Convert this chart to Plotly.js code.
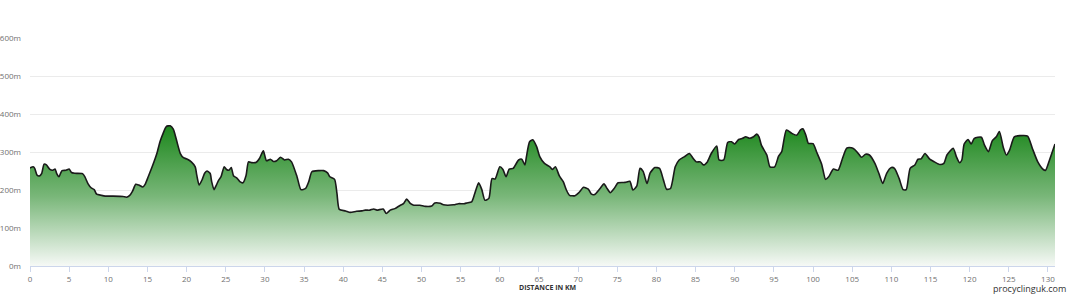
<!DOCTYPE html>
<html>
<head>
<meta charset="utf-8">
<script src="https://cdn.plot.ly/plotly-3.0.1.min.js"></script>
<style>html,body{margin:0;padding:0;background:#fff}#chart{width:1068px;height:294px}</style>
</head>
<body>
<div id="chart"></div>
<script>
const distanceKm = [0,0.4,0.6,0.9,1.2,1.5,1.8,2.1,2.5,2.9,3.2,3.4,3.7,3.9,4.1,4.6,5.0,5.3,5.7,6.7,7.0,7.4,7.8,8.2,8.5,9.1,9.6,10.6,11.9,12.3,12.7,13.1,13.5,13.9,14.4,14.7,15.1,15.6,16.2,16.6,17.0,17.4,17.9,18.3,18.7,19.2,19.6,20.1,20.6,21.1,21.3,21.6,22.0,22.3,22.6,23.0,23.2,23.5,23.8,24.1,24.4,24.8,25.1,25.4,25.7,26.0,26.4,26.8,27.2,27.6,27.9,28.3,28.9,29.3,29.8,30.2,30.7,31.1,31.5,32.0,32.5,33.0,33.4,34.1,34.6,35.2,35.6,36.0,36.9,37.5,38.0,38.3,38.9,39.2,39.5,40.3,40.9,41.7,42.4,42.8,43.4,43.9,44.3,45.1,45.5,46.0,46.6,47.3,47.7,48.1,48.6,49.0,49.8,50.5,51.3,51.7,52.4,52.8,54.1,54.7,55.4,55.8,56.4,56.8,57.3,57.7,58.1,58.6,59.0,59.4,60.0,60.4,60.8,61.2,61.7,62.4,62.8,63.2,63.4,63.8,64.2,64.7,65.1,65.7,66.4,66.7,67.1,67.6,68.1,68.5,68.9,69.6,70.1,70.7,71.3,71.7,72.1,72.8,73.3,73.7,74.1,74.6,75.1,76.0,76.6,77.0,77.5,77.9,78.3,78.8,79.2,79.8,80.4,80.9,81.3,81.8,82.4,82.9,83.6,84.2,84.7,85.1,85.6,86.0,86.5,87.0,87.7,88.0,88.6,89.1,89.6,90.0,90.5,91.0,91.4,91.9,92.4,92.8,93.1,93.4,94.1,94.5,95.1,95.6,96.0,96.6,97.3,97.9,98.4,98.7,99.1,99.4,100.0,100.5,101.1,101.6,102.0,102.6,103.2,103.7,104.3,104.9,105.3,105.7,106.2,106.7,107.2,107.9,108.4,108.9,109.4,110.0,110.4,111.0,111.5,111.9,112.4,113.0,113.4,113.8,114.3,114.9,115.5,116.2,116.7,117.1,117.9,118.3,118.7,119.0,119.3,119.8,120.2,120.6,121.5,121.9,122.4,122.9,123.4,123.8,124.3,124.7,125.1,125.7,126.4,127.4,128.0,128.7,129.4,129.7,130.2,130.9];
const elevationM = [258,261,257,239,237,244,268,266,255,252,255,244,235,244,251,252,255,246,244,243,235,217,206,201,189,186,184,184,183,181,185,197,215,213,208,215,235,261,296,327,349,367,369,360,332,296,285,281,274,261,239,213,228,244,250,244,222,201,213,226,235,261,254,252,259,237,232,222,219,239,274,272,273,283,303,277,281,275,277,286,279,281,274,235,201,204,222,248,251,251,245,235,228,191,149,145,141,144,145,147,147,150,147,150,138,147,151,160,164,176,164,160,160,157,158,166,165,161,161,164,164,166,169,191,219,201,173,178,230,229,261,254,235,255,257,279,281,266,288,327,332,314,288,270,261,254,261,237,222,200,186,185,193,207,202,189,188,204,216,204,193,204,219,220,223,200,211,257,249,217,245,259,257,226,202,204,261,279,288,296,283,274,274,266,274,296,316,279,279,325,327,321,333,336,340,336,340,347,340,318,292,261,261,289,301,358,349,344,358,361,343,323,322,298,268,228,235,255,252,279,310,311,307,298,286,294,292,270,244,217,244,259,257,230,201,201,257,266,281,282,296,281,274,267,270,292,310,288,272,279,321,333,321,336,339,318,301,330,340,354,312,292,305,340,343,342,310,274,254,252,279,321];
const xTickVals = [0,5,10,15,20,25,30,35,40,45,50,55,60,65,70,75,80,85,90,95,100,105,110,115,120,125,130];
const yTickVals = [0,100,200,300,400,500,600];
const xTitle = 'DISTANCE IN KM';
const sourceText = 'procyclinguk.com';

const trace = {
  x: distanceKm,
  y: elevationM,
  type: 'scatter',
  mode: 'lines',
  line: {color: '#1a1a1a', width: 1.6, shape: 'spline', smoothing: 0.6},
  fill: 'tozeroy',
  fillgradient: {
    type: 'vertical',
    start: 0,
    stop: 370,
    colorscale: [[0, 'rgb(246,249,246)'], [0.5, 'rgb(120,182,120)'], [1, 'rgb(28,135,28)']]
  },
  hoverinfo: 'skip'
};

const layout = {
  width: 1068,
  height: 294,
  margin: {l: 30, r: 13, t: 38, b: 28},
  paper_bgcolor: '#ffffff',
  plot_bgcolor: '#ffffff',
  showlegend: false,
  font: {family: 'Open Sans, sans-serif', color: '#666666', size: 8},
  xaxis: {
    range: [0, 130.9],
    tickvals: xTickVals,
    ticktext: xTickVals.map(String),
    ticks: 'outside',
    ticklen: 5,
    tickcolor: '#ccd6eb',
    showline: true,
    linecolor: '#ccd6eb',
    linewidth: 1,
    showgrid: false,
    zeroline: false,
    tickfont: {size: 8, color: '#707070'}
  },
  yaxis: {
    range: [0, 600],
    tickvals: yTickVals,
    ticktext: yTickVals.map(v => v + 'm'),
    showgrid: true,
    gridcolor: '#ebebeb',
    gridwidth: 1,
    zeroline: false,
    showline: false,
    ticks: '',
    ticklabelstandoff: 8,
    tickfont: {size: 8, color: '#707070'}
  },
  annotations: [
    {text: '<b>' + xTitle + '</b>', xref: 'paper', yref: 'paper', x: 0.505, y: -0.094, yanchor: 'middle', xanchor: 'center', showarrow: false, borderpad: 0, font: {size: 7, color: '#333333', family: 'Open Sans, sans-serif'}},
    {text: sourceText, xref: 'paper', yref: 'paper', x: 1.0115, y: -0.1, yanchor: 'middle', xanchor: 'right', showarrow: false, borderpad: 0, font: {size: 9, color: '#333333', family: 'Open Sans, sans-serif'}}
  ]
};

Plotly.newPlot('chart', [trace], layout, {staticPlot: true, displayModeBar: false});
</script>
</body>
</html>
